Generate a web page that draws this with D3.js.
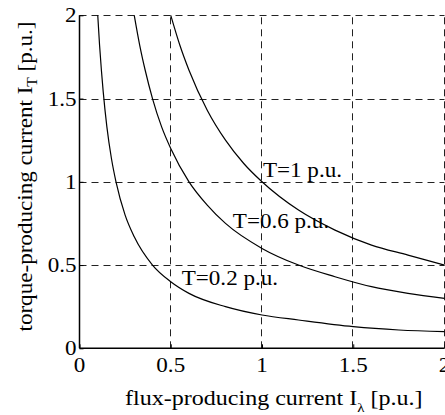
<!DOCTYPE html>
<html>
<head>
<meta charset="utf-8">
<script src="https://cdn.jsdelivr.net/npm/d3@7"></script>
<style>
  html, body { margin: 0; padding: 0; background: #fff; }
  svg { display: block; }
  text { font-family: "Liberation Serif", "Times New Roman", serif; fill: #000; }
</style>
</head>
<body>
<svg id="chart" width="445" height="415"></svg>
<script>
// Constant-torque curves: torque-producing vs flux-producing current
const xTicks = [0, 0.5, 1, 1.5, 2];
const yTicks = [0, 0.5, 1, 1.5, 2];
const xTickLabels = ["0", "0.5", "1", "1.5", "2"];
const yTickLabels = ["0", "0.5", "1", "1.5", "2"];

const curveNames = ["T=1 p.u.", "T=0.6 p.u.", "T=0.2 p.u."];

const t1X = [0.5, 0.55, 0.6, 0.7, 0.8, 0.9, 1, 1.2, 1.4, 1.6, 1.8, 2];
const t1Y = [2, 1.82, 1.67, 1.43, 1.25, 1.11, 1, 0.83, 0.71, 0.62, 0.56, 0.5];

const t06X = [0.3, 0.33, 0.36, 0.4, 0.45, 0.5, 0.6, 0.7, 0.8, 1, 1.2, 1.4, 1.6, 1.8, 2];
const t06Y = [2, 1.82, 1.67, 1.5, 1.33, 1.2, 1, 0.86, 0.75, 0.6, 0.5, 0.43, 0.37, 0.33, 0.3];

const t02X = [0.1, 0.11, 0.12, 0.13, 0.15, 0.175, 0.2, 0.25, 0.3, 0.4, 0.5, 0.6, 0.8, 1, 1.2, 1.5, 1.75, 2];
const t02Y = [2, 1.82, 1.67, 1.54, 1.33, 1.14, 1, 0.8, 0.67, 0.5, 0.4, 0.33, 0.25, 0.2, 0.17, 0.13, 0.11, 0.1];

// Label anchor points (data coordinates) for each curve
const labelX = [1.005, 0.84, 0.56];
const labelY = [1.03, 0.72, 0.38];

const series = [
  { name: curveNames[0], xs: t1X, ys: t1Y },
  { name: curveNames[1], xs: t06X, ys: t06Y },
  { name: curveNames[2], xs: t02X, ys: t02Y }
];

const svg = d3.select("#chart");
const W = 445, H = 415;
const margin = { left: 79.5, right: 0.5, top: 15.3, bottom: 66.7 };

const x = d3.scaleLinear().domain([0, 2]).range([margin.left, W - margin.right]);
const y = d3.scaleLinear().domain([0, 2]).range([H - margin.bottom, margin.top]);

const FS = 21;
const SX = 1.1; // horizontal stretch of the serif lettering

// Dashed grid
const grid = svg.append("g").attr("stroke", "#222").attr("stroke-width", 1)
  .attr("stroke-dasharray", "7,5").attr("fill", "none");
grid.selectAll("line.gx").data(xTicks.slice(1)).join("line")
  .attr("x1", d => Math.round(x(d)) - 0.5).attr("x2", d => Math.round(x(d)) - 0.5)
  .attr("y1", y(0)).attr("y2", y(2));
grid.selectAll("line.gy").data(yTicks.slice(1)).join("line")
  .attr("x1", x(0)).attr("x2", x(2))
  .attr("y1", d => Math.round(y(d)) + 0.5).attr("y2", d => Math.round(y(d)) + 0.5);

// Axes (left and bottom), inward ticks
const xAxis = d3.axisBottom(x).tickValues(xTicks).tickSize(-4).tickFormat("");
const yAxis = d3.axisLeft(y).tickValues(yTicks).tickSize(-4).tickFormat("");
const gx = svg.append("g").attr("transform", `translate(0,${y(0)})`).call(xAxis);
const gy = svg.append("g").attr("transform", `translate(${x(0)},0)`).call(yAxis);
[gx, gy].forEach(g => {
  g.select(".domain").attr("stroke", "#000").attr("stroke-width", 1.5);
  g.selectAll(".tick line").attr("stroke", "#000");
});
gx.select(".domain").attr("d", `M${x(0)},0H${x(2)}`);
gy.select(".domain").attr("d", `M0,${y(0)}V${y(2)}`);

// Tick labels
function stretchedText(parent, px, py, str, anchor, sx) {
  return parent.append("text")
    .attr("transform", `translate(${px},${py}) scale(${sx || SX},1)`)
    .attr("text-anchor", anchor)
    .attr("font-size", FS)
    .text(str);
}
xTicks.forEach((v, i) => stretchedText(svg, x(v), 372, xTickLabels[i], "middle"));
yTicks.forEach((v, i) => stretchedText(svg, x(0) - 3, y(v) + 7, yTickLabels[i], "end"));

// Curves
const line = d3.line().x(d => x(d[0])).y(d => y(d[1])).curve(d3.curveMonotoneX);
series.forEach((s, i) => {
  const pts = s.xs.map((v, j) => [v, s.ys[j]]);
  svg.append("path").datum(pts)
    .attr("d", line)
    .attr("fill", "none")
    .attr("stroke", "#000")
    .attr("stroke-width", 1.2);
  stretchedText(svg, x(labelX[i]), y(labelY[i]), s.name, "start");
});

// Axis titles
const xt = svg.append("text")
  .attr("transform", `translate(125,405) scale(1.145,1)`)
  .attr("font-size", FS);
xt.append("tspan").text("flux-producing current I");
xt.append("tspan").attr("font-size", 13).attr("dy", 7).text("λ");
xt.append("tspan").attr("dy", -7).text(" [p.u.]");

const yt = svg.append("text")
  .attr("transform", `translate(32,${(8 + 345) / 2}) rotate(-90) scale(${SX},1)`)
  .attr("text-anchor", "middle")
  .attr("font-size", FS);
yt.append("tspan").text("torque-producing current I");
yt.append("tspan").attr("font-size", 14).attr("dy", 5).text("T");
yt.append("tspan").attr("dy", -5).text(" [p.u.]");
</script>
</body>
</html>
